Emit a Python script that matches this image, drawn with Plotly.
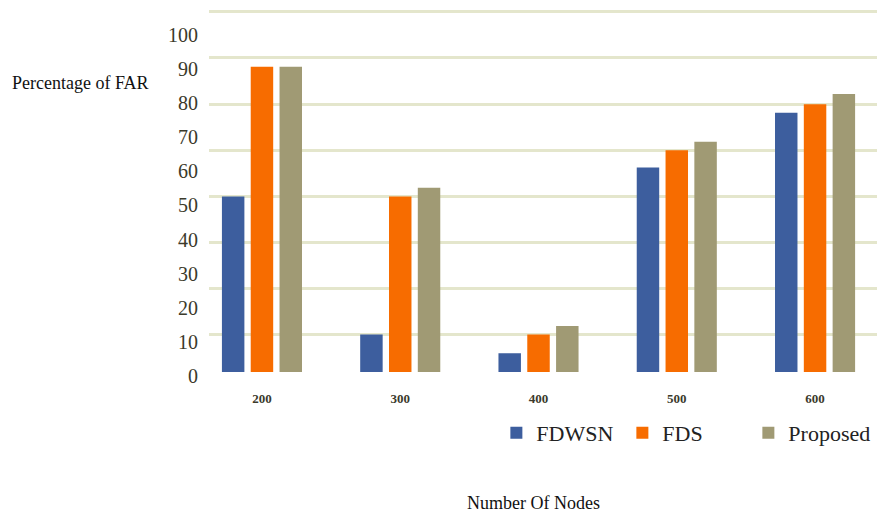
import plotly.graph_objects as go

categories = ["200", "300", "400", "500", "600"]
fdwsn = [51.5, 11, 5.5, 60, 76]
fds = [89.5, 51.5, 11, 65, 78.5]
proposed = [89.5, 54, 13.5, 67.5, 81.5]
y_ticks = [0, 10, 20, 30, 40, 50, 60, 70, 80, 90, 100]

serif = "Liberation Serif"
label_color = "#3b3a2b"

fig = go.Figure()
# empty trace that anchors the gridline axis
fig.add_trace(go.Scatter(x=categories, y=[None] * len(categories), yaxis="y",
                         showlegend=False, hoverinfo="skip", mode="lines"))
series = [("FDWSN", fdwsn, "#3d5e9e"), ("FDS", fds, "#f76c00"), ("Proposed", proposed, "#a09a74")]
for name, vals, col in series:
    fig.add_trace(go.Bar(x=categories, y=vals, name=name, yaxis="y2",
                         marker=dict(color=col, line=dict(width=0))))

fig.update_layout(
    width=877, height=513,
    margin=dict(l=209, r=0, t=8, b=141),
    font=dict(family=serif),
    paper_bgcolor="white", plot_bgcolor="white",
    barmode="group", bargap=0.375, bargroupgap=0.22,
    xaxis=dict(type="category", range=[-0.383, 4.448], showgrid=False, zeroline=False,
               showline=False, ticks="outside", ticklen=14, tickcolor="rgba(0,0,0,0)",
               tickfont=dict(family=serif, size=13, color=label_color, weight="bold")),
    yaxis=dict(range=[0.199, 8.078], dtick=1, tick0=0, showgrid=True,
               gridcolor="#e4e6cc", gridwidth=2.5, showticklabels=False,
               zeroline=False, showline=False),
    yaxis2=dict(overlaying="y", side="left", range=[0, 106.74], tickvals=y_ticks,
                showgrid=False, zeroline=False, showline=False, ticklabelshift=4,
                ticks="outside", ticklen=6, tickcolor="rgba(0,0,0,0)",
                tickfont=dict(family=serif, size=20, color=label_color)),
    showlegend=True,
    legend=dict(orientation="h", xref="container", yref="container",
                x=0.997, xanchor="right", y=1 - 433 / 513, yanchor="middle",
                font=dict(family=serif, size=22, color="#222222"),
                bgcolor="rgba(0,0,0,0)", itemwidth=30, entrywidth=81,
                traceorder="normal"),
    annotations=[
        dict(text="Percentage of FAR", xref="paper", yref="paper", showarrow=False,
             x=(10 - 209) / 668, xanchor="left", y=1 - (83 - 8) / 364, yanchor="middle",
             font=dict(family=serif, size=18, color="#111111")),
        dict(text="Number Of Nodes", xref="paper", yref="paper", showarrow=False,
             x=(533 - 209) / 668, xanchor="center", y=-(503 - 372) / 364, yanchor="middle",
             font=dict(family=serif, size=18, color="#111111")),
    ],
)

fig.write_html("out.html")
